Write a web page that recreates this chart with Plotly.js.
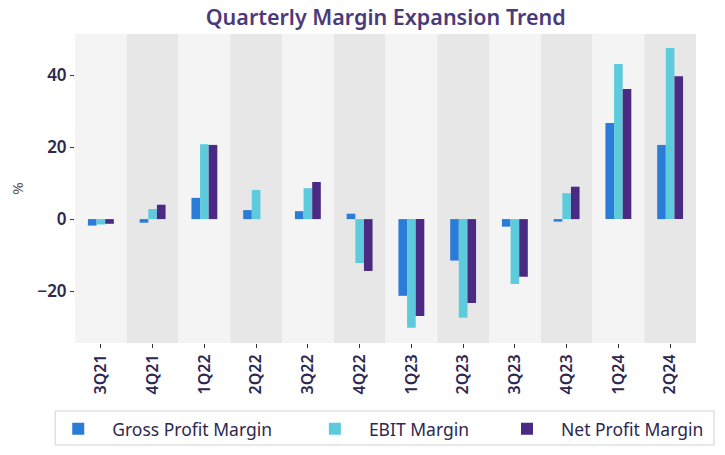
<!DOCTYPE html>
<html>
<head>
<meta charset="utf-8">
<script src="https://cdn.plot.ly/plotly-3.0.1.min.js"></script>
<style>html,body{margin:0;padding:0;background:#fff;}#chart{width:725px;height:455px;}</style>
</head>
<body>
<div id="chart"></div>
<script>
var quarters = ["3Q21","4Q21","1Q22","2Q22","3Q22","4Q22","1Q23","2Q23","3Q23","4Q23","1Q24","2Q24"];
var grossMargin = [-1.8, -1.0, 5.9, 2.5, 2.2, 1.5, -21.3, -11.5, -2.1, -0.7, 26.7, 20.6];
var ebitMargin  = [-1.5, 2.8, 20.8, 8.1, 8.6, -12.2, -30.2, -27.4, -18.0, 7.2, 43.1, 47.5];
var netMargin   = [-1.3, 4.0, 20.6, 0, 10.3, -14.4, -26.9, -23.3, -16.0, 9.0, 36.1, 39.7];
var seriesNames = ["Gross Profit Margin", "EBIT Margin", "Net Profit Margin"];
var seriesColors = ["#2b7bd9", "#5ecbdc", "#4b2a84"];
var bandColors = ["#f4f4f5", "#e7e7e7"];

var FONT = "'Noto Sans', Lato, sans-serif";
var values = [grossMargin, ebitMargin, netMargin];
var legendIds = ["legend", "legend2", "legend3"];
var legendX = [0.061, 0.415, 0.680];

var traces = values.map(function(v, i){
  return {type:"bar", x: quarters, y: v, name: seriesNames[i], legend: legendIds[i],
          marker:{color: seriesColors[i], line:{width:0}}};
});

var shapes = quarters.map(function(q, i){
  return {type:"rect", xref:"x", yref:"paper", x0:i-0.5, x1:i+0.5, y0:0, y1:1,
          fillcolor: bandColors[i % 2], line:{width:0}, layer:"below"};
});
// legend frame
shapes.push({type:"rect", xref:"paper", yref:"paper", x0:-0.032, x1:1.029, y0:-0.330, y1:-0.220,
             fillcolor:"rgba(0,0,0,0)", line:{color:"#d2d2d2", width:1}, layer:"above"});

var layout = {
  width:725, height:455,
  margin:{l:75, r:29, t:34, b:112},
  paper_bgcolor:"#ffffff", plot_bgcolor:"#ffffff",
  font:{family:FONT, color:"#2d2850"},
  title:{text:"Quarterly Margin Expansion Trend", x:0.532, xanchor:"center", y:0.962, yanchor:"middle",
         font:{family:FONT, size:21.5, color:"#4b3a7a", weight:600}},
  barmode:"group", bargap:0.5, bargroupgap:0,
  shapes: shapes,
  xaxis:{type:"category", tickangle:-90, ticks:"outside", ticklen:4, tickcolor:"#333",
         showgrid:false, zeroline:false, showline:false, automargin:false,
         tickfont:{family:FONT, size:16, color:"#2d2850", weight:600}, range:[-0.5, 11.5]},
  yaxis:{range:[-34.4, 51.4], tickvals:[-20,0,20,40], ticktext:["\u221220","0","20","40"],
         ticks:"outside", ticklen:4, tickcolor:"#333", automargin:false,
         showgrid:false, zeroline:false, showline:false,
         tickfont:{family:FONT, size:17, color:"#2d2850", weight:600},
         title:{text:"%", font:{family:FONT, size:15, color:"#555"}, standoff:10}},
  showlegend:true
};
legendIds.forEach(function(id, i){
  layout[id] = {orientation:"h", xref:"container", yref:"container", x:legendX[i], xanchor:"left",
                y:0.097, yanchor:"top", borderwidth:0, bgcolor:"rgba(0,0,0,0)",
                font:{family:FONT, size:17.5, color:"#2d2850"}, itemwidth:58};
});

Plotly.newPlot("chart", traces, layout, {displayModeBar:false, staticPlot:true});
</script>
</body>
</html>
